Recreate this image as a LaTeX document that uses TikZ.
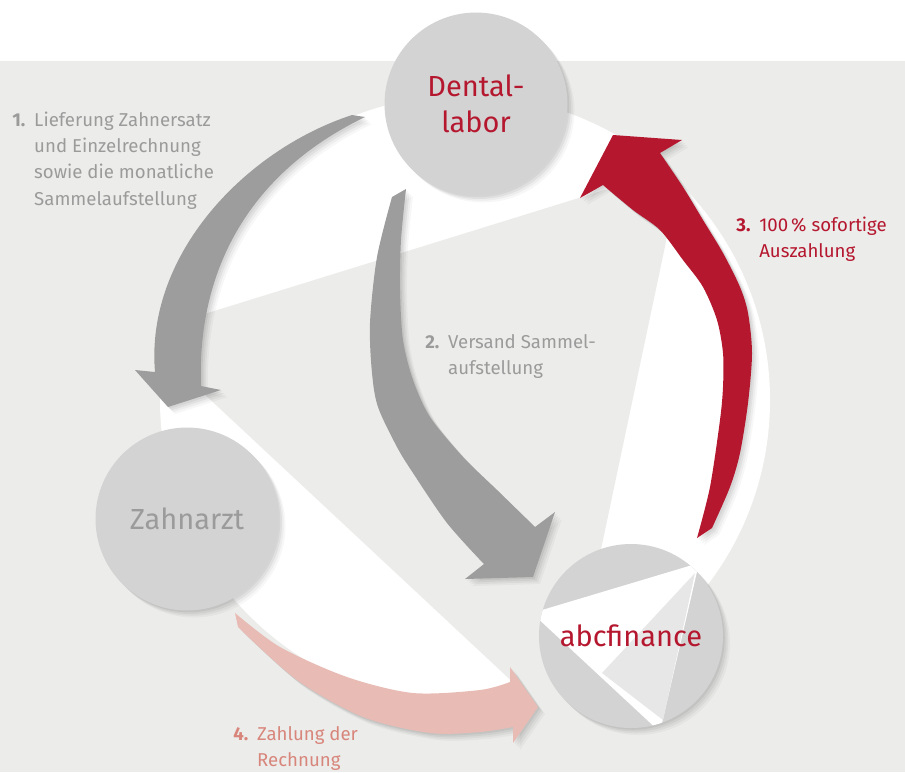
\documentclass[tikz,border=0pt]{standalone}
\usepackage{fontspec}
\setmainfont{Fira Sans}
\usepackage{xcolor}
\usetikzlibrary{shadows}

\definecolor{bggrey}{HTML}{ECECEA}
\definecolor{circgrey}{HTML}{D3D3D3}
\definecolor{innergrey}{HTML}{E7E7E7}
\definecolor{arrowgrey}{HTML}{9D9D9D}
\definecolor{abcred}{HTML}{B5172F}
\definecolor{payred}{HTML}{E8BCB5}
\definecolor{textgrey}{HTML}{9B9B9B}
\definecolor{paytext}{HTML}{D8867C}

\begin{document}
\begin{tikzpicture}[x=0.02cm, y=-0.02cm,
        shade/.style={drop shadow={fill=black, opacity=0.05, shadow xshift=1pt, shadow yshift=-1pt},
            drop shadow={fill=black, opacity=0.05, shadow xshift=2pt, shadow yshift=-2pt},
            drop shadow={fill=black, opacity=0.04, shadow xshift=3pt, shadow yshift=-3pt},
            drop shadow={fill=black, opacity=0.03, shadow xshift=4pt, shadow yshift=-4pt}},
        party/.style={circle, fill=circgrey, minimum size=3.66cm, inner sep=0pt, align=center,
            font=\fontsize{16.5}{20.5}\selectfont},
        note/.style={inner sep=0pt, anchor=base west, font=\fontsize{10.6}{15}\selectfont},
        flowgrey/.style={shade, fill=arrowgrey},
        flowred/.style={shade, fill=abcred},
        flowpay/.style={shade, fill=payred}
    ]
        \useasboundingbox (0,0) rectangle (905,772);
        \fill[bggrey] (0,61) rectangle (905,772);

        % white ring and the folded triangle on top
        \fill[white] (465,400) circle (305);
        \fill[bggrey] (140,334) -- (682,166) -- (563,729) -- cycle;

        % 1. Dentallabor -> Zahnarzt
        \fill[flowgrey] (352,115) .. controls (245,150) and (145,255) .. (155,372)
            -- (135,370) -- (168,407) -- (221,390) -- (201,386)
            .. controls (197,275) and (245,175) .. (365,117) -- cycle;

        % 2. Dentallabor -> abcfinance
        \fill[flowgrey] plot[smooth] coordinates {(392,197) (377,257) (370,323) (372,373) (378,407) (397,447) (413,473) (447,523) (484,564)}
            -- (465,579) -- (533,577) -- (555,512) -- (535,527)
            -- plot[smooth] coordinates {(535,527) (497,490) (463,457) (430,417) (413,380) (403,340) (400,290) (401,240) (406,189)} -- cycle;

        % 3. abcfinance -> Dentallabor
        \fill[flowred] plot[smooth] coordinates {(712,528) (730,487) (740,453) (748,403) (752,353) (748,313) (740,287) (723,253) (703,220) (683,187) (660,153)}
            -- (682,140) -- (613,135) -- (580,198) -- (603,185)
            -- plot[smooth] coordinates {(603,185) (633,210) (660,230) (683,260) (703,287) (717,320) (723,353) (723,387) (720,420) (710,487) (697,538)} -- cycle;

        % 4. Zahnarzt -> abcfinance
        \fill[flowpay] plot[smooth] coordinates {(235,613) (280,647) (347,677) (413,693) (480,690) (510,682)}
            -- (510,667) -- (538,707) -- (513,743) -- (513,727)
            -- plot[smooth] coordinates {(513,727) (480,732) (430,733) (363,717) (297,680) (238,627)} -- cycle;

        \node[party, shade, text=abcred] (labor) at (476,104) {Dental-\\labor};
        \node[party, shade, text=textgrey] (zahnarzt) at (187,519) {Zahnarzt};

        % abcfinance disc with its folded inner planes
        \fill[circgrey, shade] (631,636) circle (92);
        \begin{scope}
            \clip (631,636) circle (92);
            \fill[white] (532,613) -- (699,563) -- (660,732) -- cycle;
            \fill[innergrey] (602,673) -- (695,573) -- (663,720) -- cycle;
        \end{scope}
        \node[party, fill=none, text=abcred] (abc) at (631,636) {abcfinance};

        \node[note, text=textgrey] (step1) at (12,126) {\begin{tabular}[t]{@{}l@{\hspace{5pt}}l@{}}
            \textbf{1.} & Lieferung Zahnersatz\\
             & und Einzelrechnung\\
             & sowie die monatliche\\
             & Sammelaufstellung
            \end{tabular}};
        \node[note, text=textgrey] (step2) at (425,348) {\begin{tabular}[t]{@{}l@{\hspace{5pt}}l@{}}
            \textbf{2.} & Versand Sammel-\\
             & aufstellung
            \end{tabular}};
        \node[note, text=abcred] (step3) at (736,231) {\begin{tabular}[t]{@{}l@{\hspace{5pt}}l@{}}
            \textbf{3.} & 100\,\% sofortige\\
             & Auszahlung
            \end{tabular}};
        \node[note, text=paytext] (step4) at (233,740) {\begin{tabular}[t]{@{}l@{\hspace{5pt}}l@{}}
            \textbf{4.} & Zahlung der\\
             & Rechnung
            \end{tabular}};
    \end{tikzpicture}
\end{document}
